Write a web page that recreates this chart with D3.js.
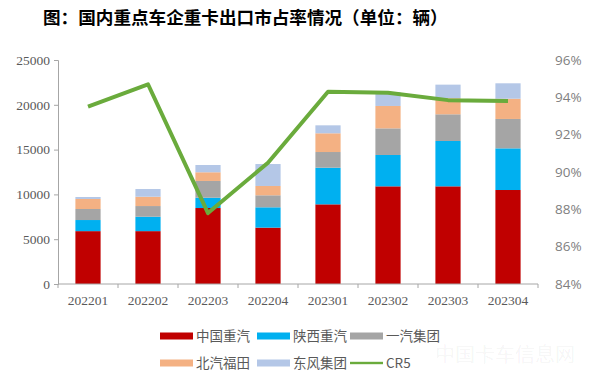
<!DOCTYPE html>
<html>
<head>
<meta charset="utf-8">
<script src="https://cdn.jsdelivr.net/npm/d3@7"></script>
<style>
  body { margin: 0; background: #fff; }
  svg { display: block; }
</style>
</head>
<body>
<svg width="600" height="375"></svg>
<script>
// data
var periods = ["202201", "202202", "202203", "202204", "202301", "202302", "202303", "202304"];
var seriesNames = ["中国重汽", "陕西重汽", "一汽集团", "北汽福田", "东风集团"];
var zhongguo = [5900, 5900, 8480, 6290, 8890, 10900, 10900, 10490];
var shaanxi = [1240, 1610, 1150, 2270, 4090, 3500, 5060, 4650];
var yiqi = [1230, 1190, 1870, 1340, 1750, 2970, 2980, 3280];
var beiqi = [1120, 1040, 970, 1040, 2090, 2500, 1800, 2260];
var dongfeng = [220, 860, 810, 2450, 890, 1530, 1510, 1720];
var cr5 = [93.5, 94.7, 87.8, 90.5, 94.3, 94.25, 93.85, 93.8];
var leftTicks = [0, 5000, 10000, 15000, 20000, 25000];
var rightTicks = [84, 86, 88, 90, 92, 94, 96];

var colors = ["#c00000", "#00b0f0", "#a5a5a5", "#f4b183", "#b4c7e7"];
var lineColor = "#6aab3c";

var svg = d3.select("svg"),
    plotLeft = 58, plotRight = 538, plotTop = 60, plotBottom = 284;

var rows = periods.map(function(p, i) {
  return { period: p, "中国重汽": zhongguo[i], "陕西重汽": shaanxi[i], "一汽集团": yiqi[i],
           "北汽福田": beiqi[i], "东风集团": dongfeng[i], cr5: cr5[i] };
});

var x = d3.scaleBand().domain(periods).range([plotLeft, plotRight]).paddingInner(0.58).paddingOuter(0.29);
var xb = d3.scaleBand().domain(periods).range([plotLeft, plotRight]);
var y = d3.scaleLinear().domain([0, 25000]).range([plotBottom, plotTop]);
var y2 = d3.scaleLinear().domain([84, 96]).range([plotBottom, plotTop]);

// title
svg.append("text")
  .attr("x", 43).attr("y", 24)
  .attr("font-family", "'Noto Sans CJK SC'")
  .attr("font-weight", "bold")
  .attr("font-size", 17.6)
  .attr("fill", "#000")
  .text("图：国内重点车企重卡出口市占率情况（单位：辆）");

// stacked bars
var stack = d3.stack().keys(seriesNames)(rows);
svg.append("g").selectAll("g")
  .data(stack)
  .enter().append("g")
    .attr("fill", function(d, i) { return colors[i]; })
  .selectAll("rect")
  .data(function(d) { return d; })
  .enter().append("rect")
    .attr("x", function(d) { return x(d.data.period); })
    .attr("width", x.bandwidth())
    .attr("y", function(d) { return y(d[1]); })
    .attr("height", function(d) { return y(d[0]) - y(d[1]); });

// left axis
var yAxis = svg.append("g")
  .attr("transform", "translate(" + plotLeft + ",0)")
  .call(d3.axisLeft(y).tickValues(leftTicks).tickSize(4).tickPadding(4).tickFormat(d3.format("d")));
yAxis.select(".domain").attr("stroke", "#a6a6a6");
yAxis.selectAll(".tick line").attr("stroke", "#a6a6a6");
yAxis.selectAll("text")
  .attr("font-family", "'Liberation Serif'")
  .attr("font-size", 13.5)
  .attr("fill", "#595959");

// x axis with ticks on band edges
var xAxis = svg.append("g").attr("transform", "translate(0," + plotBottom + ")");
xAxis.append("line").attr("x1", plotLeft).attr("x2", plotRight).attr("stroke", "#a6a6a6");
xAxis.selectAll(".edge")
  .data(periods.concat(["end"]))
  .enter().append("line")
    .attr("x1", function(d, i) { return plotLeft + i * xb.bandwidth(); })
    .attr("x2", function(d, i) { return plotLeft + i * xb.bandwidth(); })
    .attr("y1", 0).attr("y2", 4)
    .attr("stroke", "#a6a6a6");
xAxis.selectAll(".lab")
  .data(periods)
  .enter().append("text")
    .attr("x", function(d) { return xb(d) + xb.bandwidth() / 2; })
    .attr("y", 21)
    .attr("text-anchor", "middle")
    .attr("font-family", "'Liberation Serif'")
    .attr("font-size", 13.5)
    .attr("fill", "#595959")
    .text(function(d) { return d; });

// right axis (labels only)
var yAxis2 = svg.append("g")
  .attr("transform", "translate(" + (plotRight + 14) + ",0)")
  .call(d3.axisRight(y2).tickValues(rightTicks).tickSize(0).tickFormat(function(d) { return d + "%"; }));
yAxis2.select(".domain").remove();
yAxis2.selectAll("text")
  .attr("font-family", "'Open Sans'")
  .attr("font-size", 13.5)
  .attr("fill", "#7f7f7f");

// CR5 line
var line = d3.line()
  .x(function(d) { return xb(d.period) + xb.bandwidth() / 2; })
  .y(function(d) { return y2(d.cr5); });
svg.append("path")
  .datum(rows)
  .attr("d", line)
  .attr("fill", "none")
  .attr("stroke", lineColor)
  .attr("stroke-width", 4)
  .attr("stroke-linejoin", "round");

// legend
var legendItems = seriesNames.map(function(n, i) { return { name: n, color: colors[i], type: "bar" }; })
  .concat([{ name: "CR5", color: lineColor, type: "line" }]);
var legendX = [160, 257, 350];
var legendY = [336, 363];
var legend = svg.append("g").selectAll("g")
  .data(legendItems)
  .enter().append("g")
    .attr("transform", function(d, i) { return "translate(" + legendX[i % 3] + "," + legendY[Math.floor(i / 3)] + ")"; });
legend.append("rect")
  .attr("x", 0)
  .attr("y", function(d) { return d.type === "bar" ? -3.5 : -1.2; })
  .attr("width", 33)
  .attr("height", function(d) { return d.type === "bar" ? 7 : 2.4; })
  .attr("fill", function(d) { return d.color; });
legend.append("text")
  .attr("x", 36)
  .attr("y", 0)
  .attr("dy", "0.36em")
  .attr("font-family", "'Noto Sans CJK SC'")
  .attr("font-size", 13.5)
  .attr("fill", "#595959")
  .text(function(d) { return d.name; });

// faint watermark
svg.append("text")
  .attr("x", 505).attr("y", 362)
  .attr("text-anchor", "middle")
  .attr("font-family", "'Noto Sans CJK SC'")
  .attr("font-size", 20)
  .attr("fill", "#000")
  .attr("fill-opacity", 0.05)
  .text("中国卡车信息网");
</script>
</body>
</html>
